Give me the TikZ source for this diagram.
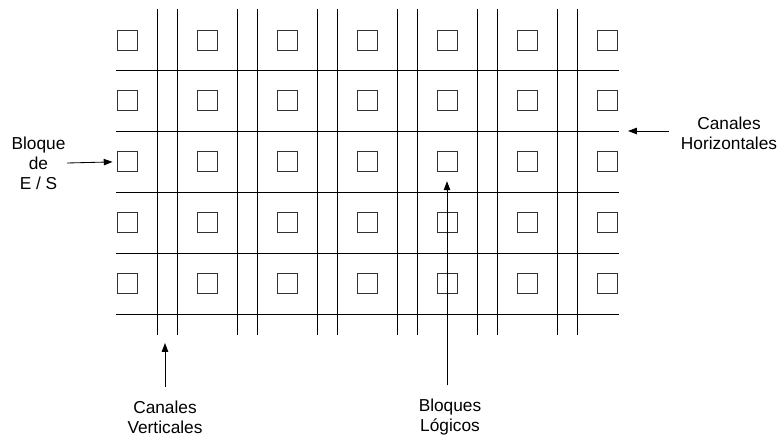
\documentclass[tikz,border=0pt]{standalone}
\usepackage{fontspec}
\setmainfont{Liberation Sans}
\usepackage{tikz}
\usetikzlibrary{positioning,arrows.meta}

\begin{document}
\begin{tikzpicture}[
  x=0.025cm, y=-0.025cm,
  bloque/.style={draw=black!80, line width=0.6pt, minimum size=0.5cm, inner sep=0pt},
  canal/.style={line width=0.7pt},
  etiqueta/.style={align=center, inner sep=1pt, font=\fontsize{12.3}{14.2}\selectfont},
  arr/.style={-{Triangle[length=2.2mm, width=1.6mm]}, line width=0.6pt},
]
  \useasboundingbox (0,0) rectangle (780,439);

  % bloques logicos y de E/S
  \foreach \i in {0,...,6}
    \foreach \j in {0,...,4}
      \node[bloque] (b-\i-\j) at ({127+80*\i},{40+60.9*\j}) {};

  % canales horizontales
  \foreach \k in {0,...,4}
    \draw[canal] (116,{70+61*\k}) -- (619,{70+61*\k});

  % canales verticales
  \foreach \i in {0,...,5} {
    \draw[canal] ({157+80*\i},9) -- ({157+80*\i},335);
    \draw[canal] ({177+80*\i},9) -- ({177+80*\i},335);
  }

  \node[etiqueta] (es) at (38.5,163) {Bloque\\de\\E / S};
  \node[etiqueta] (ch) at (729,133) {Canales\\Horizontales};
  \node[etiqueta] (cv) at (165,417) {Canales\\Verticales};
  \node[etiqueta] (bl) at (450,417) {Bloques\\Lógicos};

  \coordinate (hc-tip) at (628,131);
  \coordinate (vc-tip) at (165,343);

  \draw[arr, shorten >=4*0.025cm] (es.east) -- (b-0-2.west);
  \draw[arr, shorten <=10*0.025cm] (ch.west |- hc-tip) -- (hc-tip);
  \draw[arr, shorten <=12*0.025cm] (cv.north) -- (vc-tip);
  \draw[arr, shorten <=12*0.025cm, shorten >=9*0.025cm] (bl.north -| b-4-2) -- (b-4-2.south);
\end{tikzpicture}
\end{document}
